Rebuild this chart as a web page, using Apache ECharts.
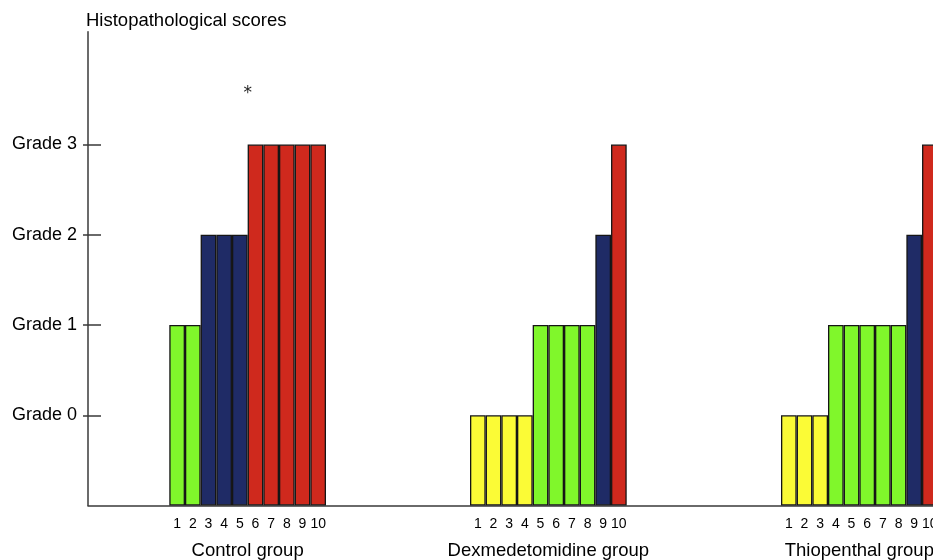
<!DOCTYPE html>
<html>
<head>
<meta charset="utf-8">
<script src="https://cdn.jsdelivr.net/npm/echarts@6/dist/echarts.min.js"></script>
<style>html,body{margin:0;padding:0;background:#fff}#c{width:933px;height:560px}</style>
</head>
<body>
<div id="c"></div>
<script>
// ---- data ----
const categories = ['1', '2', '3', '4', '5', '6', '7', '8', '9', '10'];
const groupNames = ['Control group', 'Dexmedetomidine group', 'Thiopenthal group'];
const controlGrades = [1, 1, 2, 2, 2, 3, 3, 3, 3, 3];
const dexGrades = [0, 0, 0, 0, 1, 1, 1, 1, 2, 3];
const thioGrades = [0, 0, 0, 1, 1, 1, 1, 1, 2, 3];
const gradeLabels = ['Grade 0', 'Grade 1', 'Grade 2', 'Grade 3'];
const gradeTicks = [1, 2, 3, 4];
const yTitle = 'Histopathological scores';
const significance = '*';

// ---- layout / style ----
const gradeColors = ['#fbfb36', '#80f72b', '#1f2b66', '#cf291d'];
const FONT = 'Liberation Sans, Arial, Helvetica, sans-serif';
const W = 933;
const AXIS_X = 88;
const TOP = 31.7;
const BOTTOM = 560 - 505.5;
const groupLefts = [169.3, 470, 781];
const GROUP_W = 156.7;
const Y_MAX = 5.25;

const allGrades = [controlGrades, dexGrades, thioGrades];

const grids = [{ left: AXIS_X, right: 0, top: TOP, bottom: BOTTOM, outerBoundsMode: 'none', containLabel: false }];
groupLefts.forEach(l => grids.push({ left: l, right: W - l - GROUP_W, top: TOP, bottom: BOTTOM, outerBoundsMode: 'none', containLabel: false }));

const xAxes = [{
  gridIndex: 0, type: 'value', min: 0, max: 1,
  axisLine: { show: true, onZero: false, lineStyle: { color: '#3a3a3a', width: 1.5 } },
  axisTick: { show: false }, axisLabel: { show: false }, splitLine: { show: false }
}];
const yAxes = [{
  gridIndex: 0, type: 'value', min: 0, max: Y_MAX, interval: 1, position: 'left',
  name: yTitle, nameLocation: 'end', nameGap: 10.5,
  nameTextStyle: { align: 'left', verticalAlign: 'middle', fontFamily: FONT, fontSize: 18.5, color: '#000', padding: [0, 0, 0, -2] },
  axisLine: { show: true, lineStyle: { color: '#3a3a3a', width: 1.5 } },
  axisTick: { show: true, inside: true, length: 13, customValues: gradeTicks, lineStyle: { color: '#3a3a3a', width: 1.5 } },
  axisLabel: { show: true, margin: 11, customValues: gradeTicks, fontFamily: FONT, fontSize: 18, color: '#000',
    formatter: v => gradeLabels[v - 1] || '' },
  splitLine: { show: false }
}, {
  gridIndex: 0, type: 'value', min: 0, max: Y_MAX, interval: 1, position: 'left',
  axisLine: { show: false },
  axisTick: { show: true, inside: false, length: 5, customValues: gradeTicks, lineStyle: { color: '#3a3a3a', width: 1.5 } },
  axisLabel: { show: false }, splitLine: { show: false }
}];

const series = [];
allGrades.forEach((grades, i) => {
  const g = i + 1;
  xAxes.push({
    gridIndex: g, type: 'category', data: categories,
    name: groupNames[i], nameLocation: 'middle', nameGap: 36,
    nameTextStyle: { fontFamily: FONT, fontSize: 18.5, color: '#000' },
    axisLine: { show: false }, axisTick: { show: false },
    axisLabel: { show: true, interval: 0, margin: 12, fontFamily: FONT, fontSize: 14, color: '#000' }
  });
  yAxes.push({
    gridIndex: g, type: 'value', min: 0, max: Y_MAX, show: false
  });
  series.push({
    type: 'bar', xAxisIndex: i + 1, yAxisIndex: i + 2,
    barCategoryGap: '0%',
    data: grades.map(gr => ({ value: gr + 1, itemStyle: { color: gradeColors[gr] } })),
    itemStyle: { borderColor: '#151515', borderWidth: 1.3 }
  });
});

const chart = echarts.init(document.getElementById('c'), null, { renderer: 'canvas' });
chart.setOption({
  animation: false,
  backgroundColor: '#fff',
  grid: grids,
  xAxis: xAxes,
  yAxis: yAxes,
  series: series,
  graphic: [{
    type: 'text', x: groupLefts[0] + GROUP_W / 2, y: 94,
    style: { text: significance, fontFamily: 'DejaVu Sans, sans-serif', fontSize: 17, fill: '#222', align: 'center', verticalAlign: 'middle' }
  }]
});
</script>
</body>
</html>
